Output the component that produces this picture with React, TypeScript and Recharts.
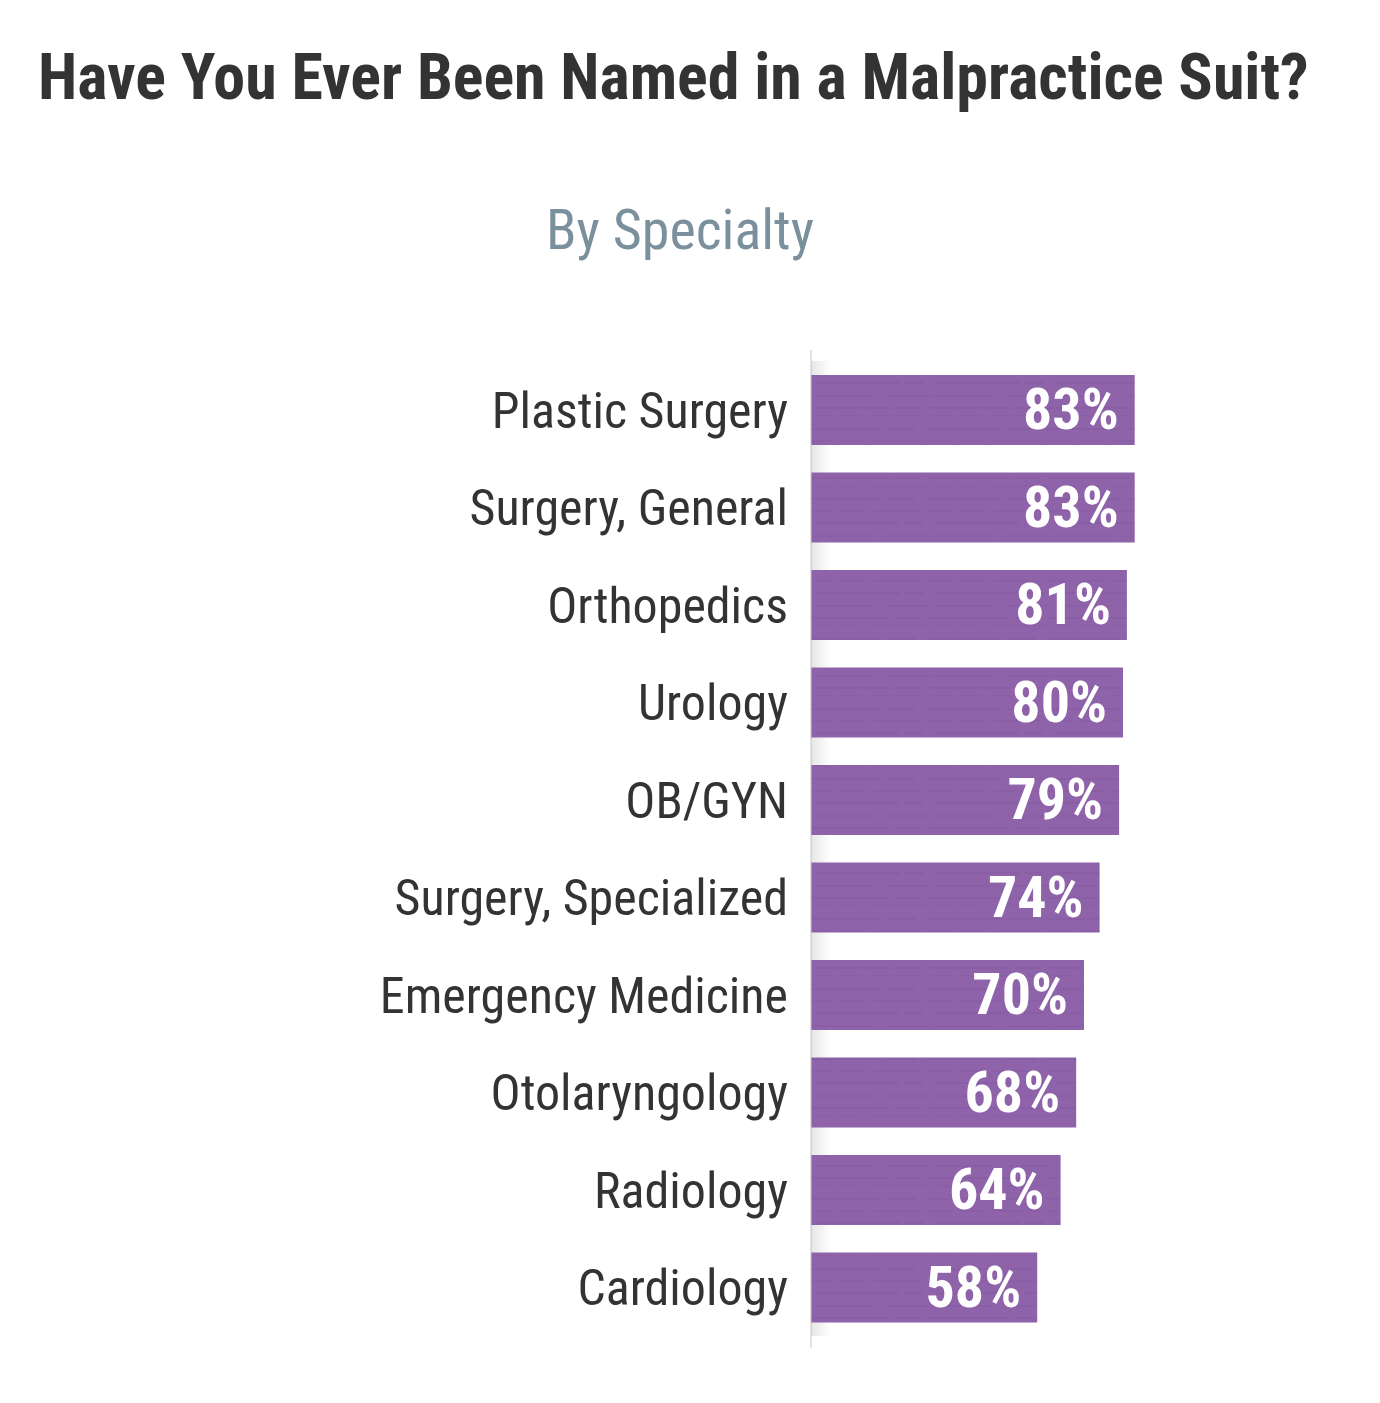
import { BarChart, Bar, XAxis, YAxis, LabelList, ReferenceArea } from 'recharts';

const specialties = [
  'Plastic Surgery',
  'Surgery, General',
  'Orthopedics',
  'Urology',
  'OB/GYN',
  'Surgery, Specialized',
  'Emergency Medicine',
  'Otolaryngology',
  'Radiology',
  'Cardiology',
];

const percents = [83, 83, 81, 80, 79, 74, 70, 68, 64, 58];

const chartTitle = 'Have You Ever Been Named in a Malpractice Suit?';
const chartSubtitle = 'By Specialty';

const data = specialties.map((name, i) => ({ name, value: percents[i] }));

const FONT = "'Roboto Condensed', 'Roboto', sans-serif";

const SpecialtyTick = (props: any) => {
  const { x, y, payload } = props;
  return (
    <text x={x} y={y} dy="0.36em" textAnchor="end" fill="#333333" fontSize={50} fontFamily={FONT}>
      {payload.value}
    </text>
  );
};

const PercentLabel = (props: any) => {
  const { x, y, width, height, value } = props;
  return (
    <text
      x={x + width - 16}
      y={y + height / 2}
      dy="0.33em"
      textAnchor="end"
      fill="#ffffff"
      fontSize={58}
      fontWeight={700}
      fontFamily={FONT}
    >
      {value}%
    </text>
  );
};

export default function App() {
  return (
    <div style={{ position: 'absolute', left: 0, top: 0, width: 1380, height: 1403, background: '#fff' }}>
      <svg width={1380} height={300} style={{ position: 'absolute', left: 0, top: 0 }}>
        <text x={38} y={99} fontSize={64} fontWeight={700} fill="#333333" fontFamily={FONT}>
          {chartTitle}
        </text>
        <text x={680} y={249} fontSize={56} textAnchor="middle" fill="#7b909d" fontFamily={FONT}>
          {chartSubtitle}
        </text>
      </svg>
      <div style={{ position: 'absolute', left: 0, top: 0 }}>
        <BarChart
          width={1380}
          height={1403}
          data={data}
          layout="vertical"
          margin={{ top: 350, right: 179, bottom: 55, left: 0 }}
          barCategoryGap={0}
        >
          <defs>
            <pattern id="barTexture" patternUnits="userSpaceOnUse" width={120} height={70}>
              <rect x={0} y={0} width={120} height={70} fill="#8e63a9" />
              <line x1={0} y1={9} x2={120} y2={9} stroke="#7d5297" strokeWidth={1} strokeDasharray="40 6 30 10" opacity={0.6} />
              <line x1={0} y1={21} x2={120} y2={21} stroke="#7d5297" strokeWidth={1} strokeDasharray="25 8 50 5" opacity={0.5} />
              <line x1={0} y1={33} x2={120} y2={33} stroke="#7d5297" strokeWidth={1} strokeDasharray="60 4 20 12" opacity={0.6} />
              <line x1={0} y1={46} x2={120} y2={46} stroke="#7d5297" strokeWidth={1} strokeDasharray="35 9 45 3" opacity={0.5} />
              <line x1={0} y1={58} x2={120} y2={58} stroke="#7d5297" strokeWidth={1} strokeDasharray="50 6 24 8" opacity={0.6} />
              <line x1={0} y1={66} x2={120} y2={66} stroke="#7d5297" strokeWidth={1} strokeDasharray="20 10 60 4" opacity={0.4} />
            </pattern>
            <linearGradient id="axisShadow" x1="0" y1="0" x2="1" y2="0">
              <stop offset="0%" stopColor="#000" stopOpacity={0.1} />
              <stop offset="100%" stopColor="#000" stopOpacity={0} />
            </linearGradient>
          </defs>
          <XAxis type="number" domain={[0, 100]} hide />
          <YAxis
            type="category"
            dataKey="name"
            width={811}
            axisLine={{ stroke: '#c4c4c4', strokeWidth: 1 }}
            tickLine={false}
            tickSize={0}
            tickMargin={23}
            tick={<SpecialtyTick />}
            padding={{ top: 11, bottom: 12 }}
            interval={0}
          />
          <ReferenceArea x1={0} x2={5} fill="url(#axisShadow)" fillOpacity={1} stroke="none" ifOverflow="visible" />
          <Bar dataKey="value" barSize={70} fill="url(#barTexture)" isAnimationActive={false}>
            <LabelList dataKey="value" content={<PercentLabel />} />
          </Bar>
        </BarChart>
      </div>
    </div>
  );
}
